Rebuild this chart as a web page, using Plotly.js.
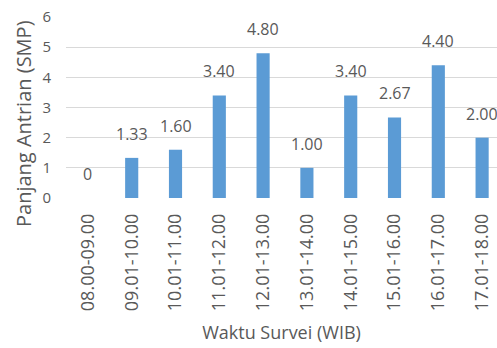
<!DOCTYPE html>
<html><head><meta charset="utf-8">
<script src="https://cdn.plot.ly/plotly-3.0.1.min.js"></script>
<style>html,body{margin:0;padding:0;background:#fff}#chart{width:497px;height:348px}</style>
</head><body><div id="chart"></div>
<script>
var categories = ["08.00-09.00","09.01-10.00","10.01-11.00","11.01-12.00","12.01-13.00","13.01-14.00","14.01-15.00","15.01-16.00","16.01-17.00","17.01-18.00"];
var values = [0, 1.33, 1.60, 3.40, 4.80, 1.00, 3.40, 2.67, 4.40, 2.00];
var labels = ["0","1.33","1.60","3.40","4.80","1.00","3.40","2.67","4.40","2.00"];
var yTicks = [0,1,2,3,4,5,6];
var yTitle = "Panjang Antrian (SMP)";
var xTitle = "Waktu Survei (WIB)";

var font = "Open Sans, Liberation Sans, sans-serif";
var grey = "#595959";
var trace = {
  type: "bar", x: categories, y: values,
  marker: {color: "#5B9BD5"},
  hoverinfo: "none"
};
var annotations = categories.map(function (c, i) {
  return {x: c, y: values[i], xref: "x", yref: "y", text: labels[i], showarrow: false,
          yanchor: "bottom", yshift: 11, font: {family: font, size: 16, color: grey}};
});
annotations.push({text: yTitle, xref: "paper", yref: "paper", x: -0.097, y: 0.41,
  xanchor: "center", yanchor: "middle", textangle: -90, showarrow: false,
  font: {family: font, size: 20, color: grey}});
var layout = {
  width: 497, height: 348,
  margin: {l: 66, r: 0, t: 17, b: 150},
  paper_bgcolor: "#fff", plot_bgcolor: "#fff",
  showlegend: false, bargap: 0.7,
  font: {family: font, color: grey},
  annotations: annotations,
  xaxis: {
    type: "category", range: [-0.5, 9.34],
    tickangle: -90, tickfont: {family: font, size: 18, color: grey},
    showgrid: false, zeroline: false, showline: false, ticks: "",
    ticklabelstandoff: 11,
    title: {text: xTitle, font: {family: font, size: 18, color: grey}, standoff: 16}
  },
  yaxis: {
    range: [0, 6], tickvals: yTicks, ticktext: yTicks.map(String),
    tickfont: {family: font, size: 15, color: grey},
    gridcolor: "#D9D9D9", gridwidth: 1, zeroline: false, showline: false, ticks: "",
    ticklabelstandoff: 14
  }
};
Plotly.newPlot("chart", [trace], layout, {displayModeBar: false, staticPlot: true});
</script></body></html>
